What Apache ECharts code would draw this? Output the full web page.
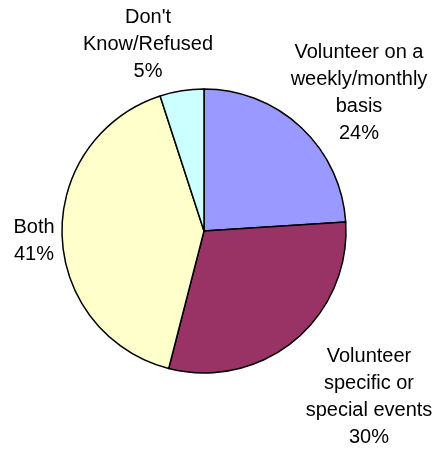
<!DOCTYPE html>
<html>
<head>
<meta charset="utf-8">
<script src="https://cdn.jsdelivr.net/npm/echarts@6/dist/echarts.min.js"></script>
<style>
  html, body { margin: 0; padding: 0; background: #ffffff; }
  #chart { width: 437px; height: 453px; }
</style>
</head>
<body>
<div id="chart"></div>
<script>
// ---- data ----
var categories = [
  "Volunteer on a\nweekly/monthly\nbasis",
  "Volunteer\nspecific or\nspecial events",
  "Both",
  "Don't\nKnow/Refused"
];
var values = [24, 30, 41, 5];
var colors = ["#9999FF", "#993366", "#FFFFCC", "#CCFFFF"];

// label centre offsets from pie centre (px)
var labelOffsets = [[155, -138], [165, 166], [-170, 10], [-56, -187]];

var pieCenter = [204, 231];
var pieRadius = 142;

var chart = echarts.init(document.getElementById('chart'), null, { renderer: 'canvas' });

var seriesData = categories.map(function (c, i) {
  return { name: c, value: values[i], itemStyle: { color: colors[i] } };
});

chart.setOption({
  backgroundColor: '#ffffff',
  animation: false,
  series: [{
    type: 'pie',
    center: pieCenter,
    radius: pieRadius,
    startAngle: 90,
    clockwise: true,
    data: seriesData,
    itemStyle: { borderColor: '#000000', borderWidth: 1.5 },
    label: {
      show: true,
      position: 'outside',
      formatter: function (p) { return p.name + '\n' + p.value + '%'; },
      fontFamily: 'Liberation Sans, Arial, sans-serif',
      fontSize: 20,
      lineHeight: 27,
      color: '#000000',
      align: 'center',
      overflow: 'none'
    },
    labelLine: { show: false },
    labelLayout: function (params) {
      var o = labelOffsets[params.dataIndex];
      return {
        x: pieCenter[0] + o[0],
        y: pieCenter[1] + o[1],
        align: 'center',
        verticalAlign: 'middle',
        width: 200
      };
    },
    emphasis: { disabled: true }
  }]
});
</script>
</body>
</html>
